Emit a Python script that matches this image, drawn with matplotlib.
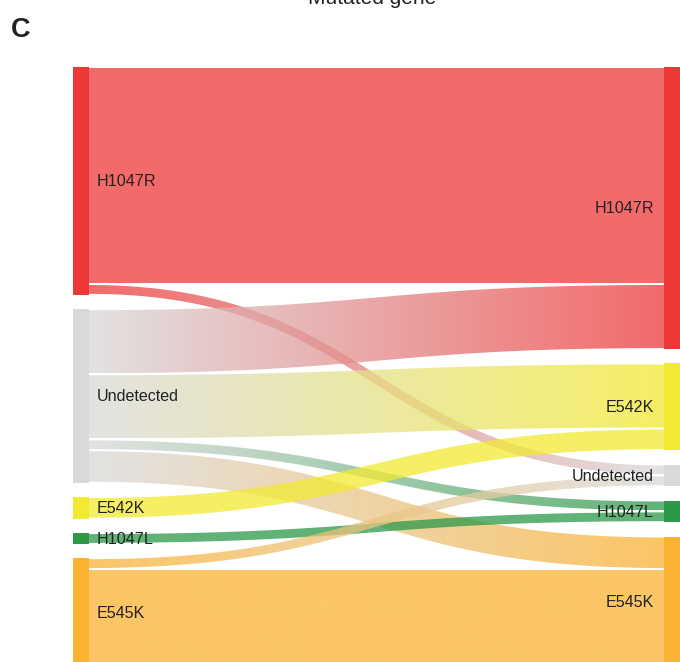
import numpy as np
import matplotlib
matplotlib.use("Agg")
import matplotlib.pyplot as plt
from matplotlib.path import Path
from matplotlib.patches import PathPatch, Rectangle
from matplotlib.colors import to_rgb
import matplotlib.transforms as mtransforms

plt.rcParams['font.family'] = ['Liberation Sans', 'DejaVu Sans']

# ---- data -------------------------------------------------------------
title = "Mutated gene"
panel_label = "C"

left_nodes = ["H1047R", "Undetected", "E542K", "H1047L", "E545K"]
right_nodes = ["H1047R", "E542K", "Undetected", "H1047L", "E545K"]

flow_source = ["H1047R", "H1047R", "Undetected", "Undetected", "Undetected",
               "Undetected", "E542K", "H1047L", "E545K", "E545K"]
flow_target = ["H1047R", "Undetected", "H1047R", "E542K", "H1047L",
               "E545K", "E542K", "H1047L", "Undetected", "E545K"]
flow_value = [20, 1, 6, 6, 1, 3, 2, 1, 1, 9]

node_colors = {
    "H1047R": "#EE3838",
    "Undetected": "#D9D9D9",
    "E542K": "#F2EA32",
    "H1047L": "#2B9948",
    "E545K": "#FBB232",
}

# ---- layout -----------------------------------------------------------
W, H, DPI = 680, 662, 100
UNIT_PX = 10.85          # pixels per patient
GAP_PX = 14.3            # vertical gap between nodes
TOP_PX = 67              # top of the node columns
NODE_W = 16
LX0, RX0 = 73, 664       # left edges of the two node columns
LINK_X0, LINK_X1 = LX0 + NODE_W, RX0
FLOW_ALPHA = 0.75
TEXT_COLOR = "#222222"
LABEL_SIZE = 11.6
gap_u = GAP_PX / UNIT_PX

fig = plt.figure(figsize=(W / DPI, H / DPI), dpi=DPI)
ax = fig.add_axes([0, 0, 1, 1])
ax.set_xlim(0, W)
ax.set_ylim((H - TOP_PX) / UNIT_PX, -TOP_PX / UNIT_PX)
ax.axis("off")


def column_positions(nodes, key_list):
    totals = {n: sum(v for k, v in zip(key_list, flow_value) if k == n) for n in nodes}
    tops, y = {}, 0.0
    for n in nodes:
        tops[n] = y
        y += totals[n] + gap_u
    return tops, totals


left_top, left_tot = column_positions(left_nodes, flow_source)
right_top, right_tot = column_positions(right_nodes, flow_target)

# stacking offsets of each flow inside its source and target node
idx = list(range(len(flow_value)))
src_off, tgt_off = {}, {}
for n in left_nodes:
    acc = 0.0
    for i in sorted([i for i in idx if flow_source[i] == n],
                    key=lambda i: right_nodes.index(flow_target[i])):
        src_off[i] = acc
        acc += flow_value[i]
for n in right_nodes:
    acc = 0.0
    for i in sorted([i for i in idx if flow_target[i] == n],
                    key=lambda i: left_nodes.index(flow_source[i])):
        tgt_off[i] = acc
        acc += flow_value[i]

# ---- flows: stroked cubic ribbons filled with a horizontal gradient ----
t = np.linspace(0, 1, 300)
xm = (LINK_X0 + LINK_X1) / 2
for i in idx:
    v = flow_value[i]
    y0 = (left_top[flow_source[i]] + src_off[i] + v / 2) * UNIT_PX
    y1 = (right_top[flow_target[i]] + tgt_off[i] + v / 2) * UNIT_PX
    P = np.array([[LINK_X0, y0], [xm, y0], [xm, y1], [LINK_X1, y1]])
    b = ((1 - t) ** 3)[:, None] * P[0] + (3 * (1 - t) ** 2 * t)[:, None] * P[1] \
        + (3 * (1 - t) * t ** 2)[:, None] * P[2] + (t ** 3)[:, None] * P[3]
    d = (3 * (1 - t) ** 2)[:, None] * (P[1] - P[0]) + (6 * (1 - t) * t)[:, None] * (P[2] - P[1]) \
        + (3 * t ** 2)[:, None] * (P[3] - P[2])
    d /= np.linalg.norm(d, axis=1)[:, None]
    nrm = np.column_stack([-d[:, 1], d[:, 0]])
    half = (v * UNIT_PX - 2.0) / 2
    upper = b + nrm * half
    lower = b - nrm * half
    poly = np.vstack([upper, lower[::-1], upper[:1]])
    poly[:, 1] /= UNIT_PX
    path = Path(poly, closed=True)
    clip = PathPatch(path, transform=ax.transData, facecolor="none", edgecolor="none")

    c0 = np.array(to_rgb(node_colors[flow_source[i]]))
    c1 = np.array(to_rgb(node_colors[flow_target[i]]))
    s = np.linspace(0, 1, 256)[:, None]
    grad = np.ones((1, 256, 4))
    grad[0, :, :3] = c0 * (1 - s) + c1 * s
    grad[0, :, 3] = FLOW_ALPHA
    ymin, ymax = poly[:, 1].min(), poly[:, 1].max()
    im = ax.imshow(grad, extent=[LINK_X0, LINK_X1, ymax, ymin], aspect="auto",
                   interpolation="bilinear", zorder=1)
    im.set_clip_path(clip)

# re-apply axis limits (imshow may alter them)
ax.set_xlim(0, W)
ax.set_ylim((H - TOP_PX) / UNIT_PX, -TOP_PX / UNIT_PX)

# ---- nodes and labels ------------------------------------------------
baseline_shift = mtransforms.ScaledTranslation(0, -5.4 / DPI, fig.dpi_scale_trans)
for n in left_nodes:
    ax.add_patch(Rectangle((LX0, left_top[n]), NODE_W, left_tot[n],
                           facecolor=node_colors[n], edgecolor="none", zorder=3))
    ax.text(LX0 + NODE_W + 8, left_top[n] + left_tot[n] / 2, n, ha="left",
            va="baseline", fontsize=LABEL_SIZE, color=TEXT_COLOR, zorder=4,
            transform=ax.transData + baseline_shift)
for n in right_nodes:
    ax.add_patch(Rectangle((RX0, right_top[n]), NODE_W, right_tot[n],
                           facecolor=node_colors[n], edgecolor="none", zorder=3))
    ax.text(RX0 - 10, right_top[n] + right_tot[n] / 2, n, ha="right",
            va="baseline", fontsize=LABEL_SIZE, color=TEXT_COLOR, zorder=4,
            transform=ax.transData + baseline_shift)

fig.text(372.5 / W, 1 - 4.5 / H, title, ha="center", va="baseline",
         fontsize=15, color=TEXT_COLOR)
fig.text(10.5 / W, 1 - 37 / H, panel_label, ha="left", va="baseline",
         fontsize=19.5, fontweight="bold", color=TEXT_COLOR)

fig.savefig("out.png", dpi=DPI)
